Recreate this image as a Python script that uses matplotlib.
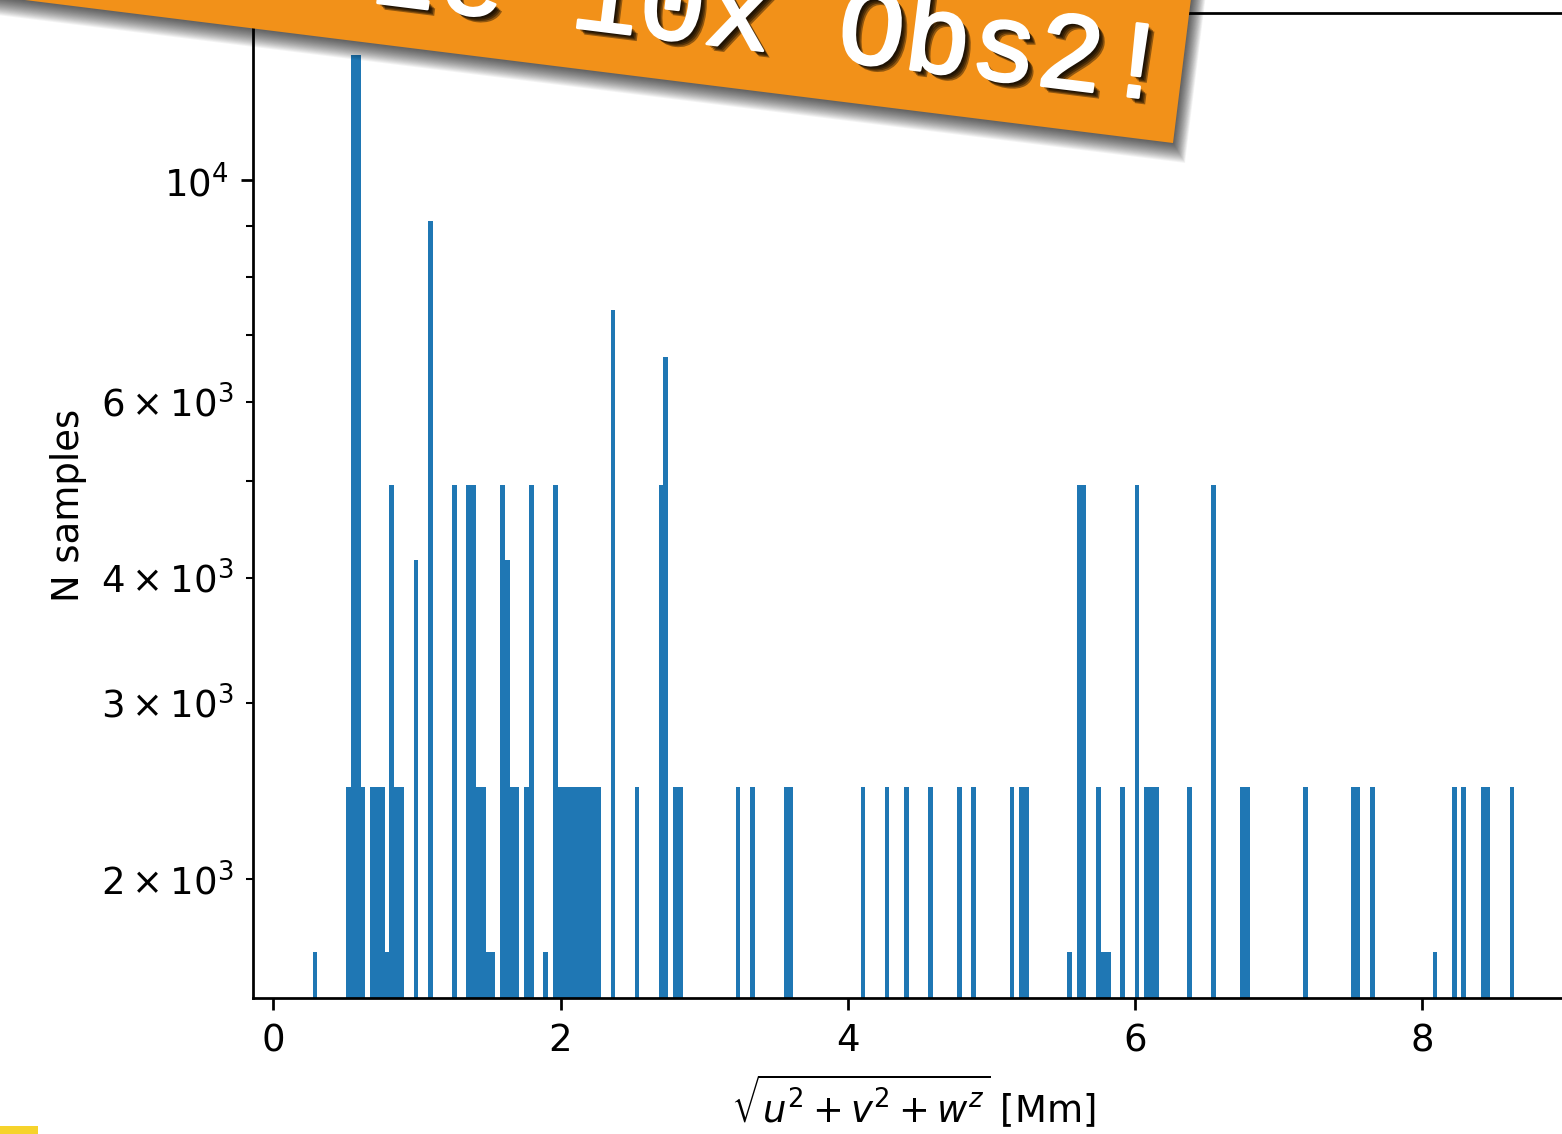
import numpy as np
import matplotlib
matplotlib.use("Agg")
import matplotlib.pyplot as plt
from matplotlib.patches import Polygon, Rectangle
import matplotlib.patheffects as pe

# ---------------- data ----------------
n_bins = 250
range_lo, range_hi = 0.2731, 8.6437          # data range of the histogram [Mm]

# indices of the non-empty (visible) bins and their counts
bin_index = [0, 7, 8, 9, 10, 12, 13, 14, 15, 16, 17, 18, 21, 24, 29,
             32, 33, 34, 35, 36, 37, 39, 40, 41, 42, 44, 45, 48,
             50, 51, 52, 53, 54, 55, 56, 57, 58, 59, 62, 67, 72, 73, 75, 76,
             88, 91, 98, 99, 114, 119, 123, 128, 134, 137, 145, 147, 148,
             157, 159, 160, 163, 164, 165, 168, 171, 173, 174, 175, 182, 187,
             193, 194, 206, 216, 217, 220, 233, 237, 239, 243, 244, 249]
counts = [1690, 2475, 13330, 13330, 2475, 2475, 2475, 2475, 1690, 4955, 2475, 2475, 4170, 9100, 4955,
          4955, 4955, 2475, 2475, 1690, 1690, 4955, 4170, 2475, 2475, 2475, 4955, 1690,
          4955, 2475, 2475, 2475, 2475, 2475, 2475, 2475, 2475, 2475, 7420, 2475, 4955, 6650, 2475, 2475,
          2475, 2475, 2475, 2475, 2475, 2475, 2475, 2475, 2475, 2475, 2475, 2475, 2475,
          1690, 4955, 4955, 2475, 1690, 1690, 2475, 4955, 2475, 2475, 2475, 2475, 4955,
          2475, 2475, 2475, 2475, 2475, 2475, 1690, 2475, 2475, 2475, 2475, 2475]
assert len(bin_index) == len(counts)

y_limits = (1520, 14680)
x_label = r'$\sqrt{u^2 + v^2 + w^z}$ [Mm]'
y_label = 'N samples'
banner_text = 'ze 10x Obs2!'

# ---------------- figure ----------------
plt.rcParams['font.size'] = 10.8
W, H = 1562, 1134
DPI = 247
fig = plt.figure(figsize=(W / DPI, H / DPI), dpi=DPI)
fig.patch.set_facecolor('white')

ax_left, ax_right_px, ax_top_px, ax_bot_px = 252.5, 1574.4, 13.3, 998.3
ax = fig.add_axes([ax_left / W, 1 - ax_bot_px / H,
                   (ax_right_px - ax_left) / W, (ax_bot_px - ax_top_px) / H])

edges = np.linspace(range_lo, range_hi, n_bins + 1)
centers = 0.5 * (edges[:-1] + edges[1:])
ax.hist(centers[bin_index], bins=edges, weights=counts, color='#1f77b4', log=True)
span = range_hi - range_lo
ax.set_xlim(range_lo - 0.05 * span, range_hi + 0.05 * span)
ax.set_ylim(*y_limits)
ax.set_xlabel(x_label)
ax.set_ylabel(y_label)


def px2fig(x, y):
    return (x / W, 1 - y / H)


# ---------------- banner ----------------
theta = np.deg2rad(7.1)
d = np.array([np.cos(theta), np.sin(theta)])      # along bottom edge (y down)
up = np.array([np.sin(theta), -np.cos(theta)])    # towards top edge (y down)
C = np.array([1173.0, 143.0])                     # bottom-right corner
corners = [C, C + up * 450, C + up * 450 - d * 1700, C - d * 1700]

# soft shadow
for k in range(1, 21):
    off = np.array([0.6 * k, 1.0 * k])
    pts = [px2fig(*(p + off)) for p in corners]
    fig.patches.append(Polygon(pts, closed=True, transform=fig.transFigure,
                               facecolor='black', edgecolor='none',
                               alpha=0.045, zorder=5))
fig.patches.append(Polygon([px2fig(*p) for p in corners], closed=True,
                           transform=fig.transFigure, facecolor='#f29119',
                           edgecolor='none', zorder=6))

shadow_fx = [pe.SimplePatchShadow(offset=(o, -o), shadow_rgbFace='black', alpha=0.4)
             for o in (0.8, 1.2, 1.6, 2.0)]
shadow_fx += [pe.Stroke(linewidth=0.8, foreground='white')]
fig.text(*px2fig(1166, 101), banner_text, rotation=-7.1, rotation_mode='anchor',
         ha='right', va='baseline', fontsize=32.5, family='Liberation Mono',
         color='white', zorder=7, path_effects=shadow_fx + [pe.Normal()])

# small yellow mark bottom-left
fig.patches.append(Rectangle(px2fig(0, 1134), 38 / W, 8 / H, transform=fig.transFigure,
                             facecolor='#f6d32b', edgecolor='none', zorder=5))

fig.savefig('out.png', dpi=DPI)
